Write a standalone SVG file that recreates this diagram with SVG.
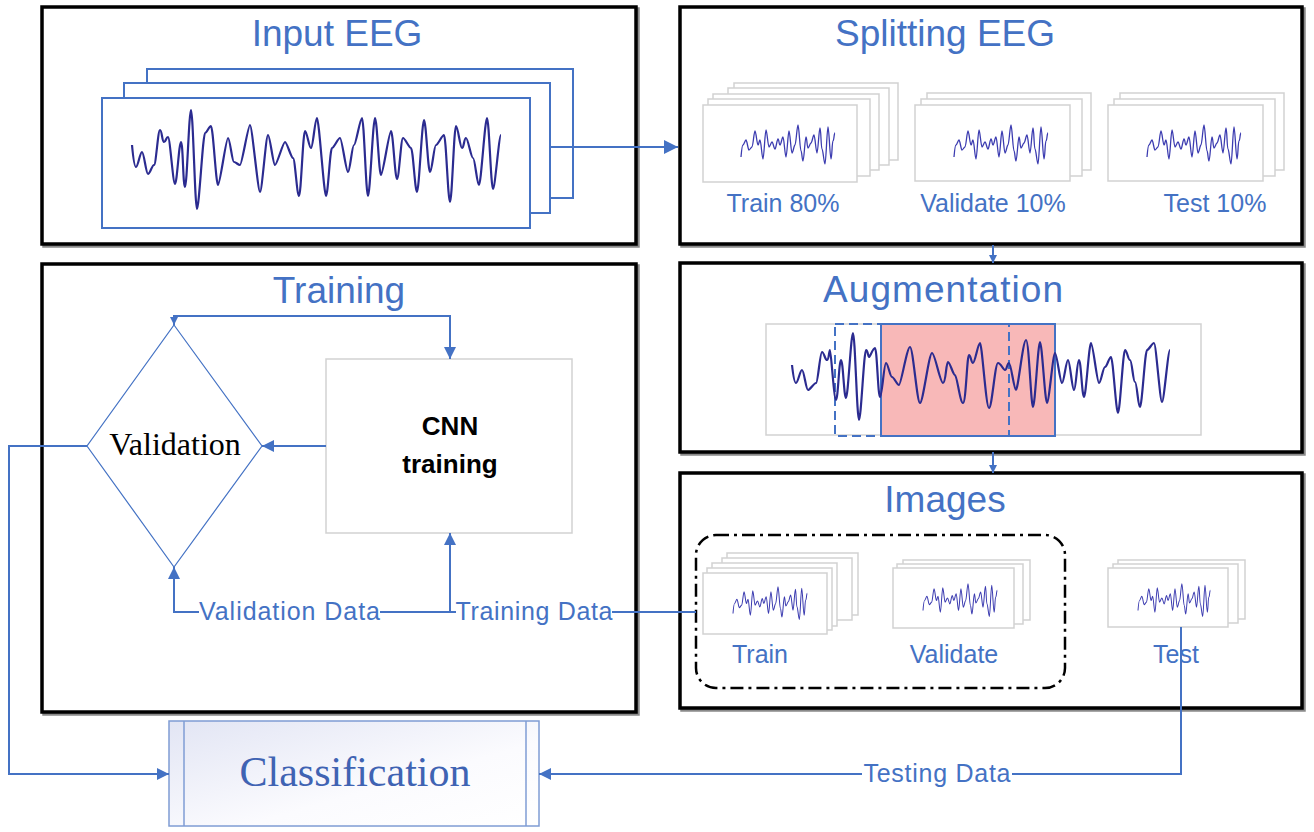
<svg xmlns="http://www.w3.org/2000/svg" xmlns:xlink="http://www.w3.org/1999/xlink" width="1314" height="832" viewBox="0 0 1314 832">
<style>
.panel{fill:#fff;stroke:#000;stroke-width:3.5}
.shadow{fill:none;stroke:#8a8a8a;stroke-width:3.5}
.title{font-family:"Liberation Sans",Arial,sans-serif;font-size:37px;fill:#4472C4;text-anchor:middle}
.lbl{font-family:"Liberation Sans",Arial,sans-serif;font-size:25px;fill:#4472C4;text-anchor:middle}
.frame{fill:#fff;stroke:#d2d2d2;stroke-width:1.5}
.bframe{fill:#fff;stroke:#4472C4;stroke-width:2}
.wave{fill:none;stroke:#2b2b90;stroke-width:2.2;stroke-linejoin:round}
.mwave{fill:none;stroke:#3b3bb0;stroke-width:1.3;stroke-linejoin:round}
.conn{fill:none;stroke:#4472C4;stroke-width:2}
</style>
<defs>
<marker id="arr" viewBox="0 0 12 12" refX="12" refY="6" markerUnits="userSpaceOnUse" markerWidth="12" markerHeight="12" orient="auto"><path d="M0,0 L12,6 L0,12 z" fill="#4472C4"/></marker>
<marker id="arrB" viewBox="0 0 14 14" refX="14" refY="7" markerUnits="userSpaceOnUse" markerWidth="14" markerHeight="14" orient="auto"><path d="M0,0 L14,7 L0,14 z" fill="#4472C4"/></marker>
<marker id="arrS" viewBox="0 0 8 8" refX="8" refY="4" markerUnits="userSpaceOnUse" markerWidth="8" markerHeight="8" orient="auto-start-reverse"><path d="M0,0 L8,4 L0,8 z" fill="#4472C4"/></marker>
<path id="mw" d="M0,34 S1,22 2,22 S4,17 5,17 S7,27 8,27 S10,24 11,24 S13,8 14,8 S16,22 17,22 S18,17 19,17 S21,36 22,36 S24,7 25,7 S27,24 28,24 S30,19 31,19 S33,26 34,26 S36,16 37,16 S38,22 39,22 S41,14 42,14 S44,34 45,34 S47,8 48,8 S50,30 51,30 S53,22 54,22 S56,2 57,2 S59,28 60,28 S61,38 62,38 S64,14 65,14 S66,25 67,25 S69,20 70,20 S72,12 73,12 S75,30 76,30 S78,5 79,5 S80,26 81,26 S83,41 84,41 S86,4 87,4 S89,36 90,36 S91,18 92,18 S93,10 94,10"/>
<linearGradient id="cg" x1="0" y1="0" x2="1" y2="1"><stop offset="0" stop-color="#e2e5f4"/><stop offset="0.6" stop-color="#fbfbfe"/><stop offset="1" stop-color="#ffffff"/></linearGradient>
</defs>

<g id="input-eeg">
<rect class="shadow" x="44" y="9" width="594" height="237"/>
<rect class="panel" x="42" y="7" width="594" height="237"/>
<text class="title" x="337" y="46">Input EEG</text>
<rect class="bframe" x="147" y="69" width="426" height="129"/>
<rect class="bframe" x="124" y="83" width="426" height="130"/>
<rect class="bframe" x="102" y="98" width="428" height="130"/>
<path class="wave" d="M132,145 S134,167 136,167 S140,152 142,152 S146,174 148,174 S152,165 154,165 S158,130 160,130 S162,142 164,142 S166,137 168,137 S173,184 175,184 S179,142 181,142 S183,187 185,187 S189,110 191,110 S195,209 197,209 S203,133 205,133 S209,126 211,126 S216,185 218,185 S226,138 228,138 S232,162 234,162 S238,165 240,165 S248,125 250,125 S258,192 260,192 S266,135 268,135 S273,165 275,165 S283,142 285,142 S291,158 293,158 S297,196 299,196 S303,131 305,131 S309,148 311,148 S315,118 317,118 S324,196 326,196 S330,148 332,148 S338,138 340,138 S346,172 348,172 S352,145 354,145 S360,118 362,118 S366,196 368,196 S373,118 375,118 S379,175 381,175 S389,131 391,131 S395,179 397,179 S401,138 403,138 S409,148 411,148 S415,192 417,192 S422,120 424,120 S428,172 430,172 S434,145 436,145 S442,135 444,135 S448,202 450,202 S454,126 456,126 S460,148 462,148 S464,138 466,138 S471,158 473,158 S477,185 479,185 S485,118 487,118 S491,189 493,189 S499,135 501,135"/>
</g>

<g id="splitting-eeg">
<rect class="shadow" x="682" y="9" width="622" height="237"/>
<rect class="panel" x="680" y="7" width="622" height="237"/>
<text class="title" x="945" y="46">Splitting EEG</text>
<rect class="frame" x="734" y="83" width="164" height="77"/>
<rect class="frame" x="728" y="88" width="161" height="77"/>
<rect class="frame" x="713" y="94" width="166" height="76"/>
<rect class="frame" x="708" y="99" width="162" height="77"/>
<rect class="frame" x="703" y="105" width="154" height="77"/>
<use href="#mw" class="mwave" transform="translate(741,123)"/>
<rect class="frame" x="927" y="93" width="164" height="77"/>
<rect class="frame" x="921" y="99" width="161" height="77"/>
<rect class="frame" x="915" y="105" width="155" height="76"/>
<use href="#mw" class="mwave" transform="translate(954,123)"/>
<rect class="frame" x="1120" y="93" width="164" height="77"/>
<rect class="frame" x="1114" y="99" width="161" height="77"/>
<rect class="frame" x="1108" y="105" width="155" height="76"/>
<use href="#mw" class="mwave" transform="translate(1147,123)"/>
<text class="lbl" x="783" y="212">Train 80%</text>
<text class="lbl" x="993" y="212">Validate 10%</text>
<text class="lbl" x="1215" y="212">Test 10%</text>
</g>

<g id="augmentation">
<rect class="shadow" x="682" y="265" width="622" height="189"/>
<rect class="panel" x="680" y="263" width="622" height="189"/>
<text class="title" x="943" y="302" textLength="240">Augmentation</text>
<rect x="766" y="324" width="435" height="111" fill="#fff" stroke="#d2d2d2" stroke-width="1.5"/>
<rect x="881" y="324" width="174" height="112" fill="#f8b8b8" stroke="#4472C4" stroke-width="2"/>
<rect x="835" y="324" width="174" height="112" fill="none" stroke="#4472C4" stroke-width="2" stroke-dasharray="9 5"/>
<path class="wave" d="M792,365 S794,383 796,383 S800,370 802,370 S806,390 808,390 S814,383 816,383 S820,352 822,352 S825,360 827,360 S829,350 830,350 S834,400 836,400 S839,360 841,360 S844,398 846,398 S851,333 853,333 S857,420 859,420 S864,350 866,350 S868,357 869,357 S873,348 875,348 S878,397 880,397 S884,363 886,363 S890,377 892,377 S897,385 899,385 S907,347 910,347 S917,403 920,403 S929,353 932,353 S940,383 943,383 S946,362 948,362 S953,375 955,375 S960,403 963,403 S967,355 969,355 S971,363 973,363 S978,343 980,343 S986,408 989,408 S995,363 998,363 S1003,370 1005,370 S1007,363 1009,363 S1014,390 1016,390 S1023,340 1026,340 S1031,407 1033,407 S1038,342 1040,342 S1045,403 1047,403 S1053,353 1055,353 S1060,383 1062,383 S1066,360 1068,360 S1072,390 1074,390 S1077,360 1079,360 S1082,397 1084,397 S1089,343 1091,343 S1097,383 1099,383 S1103,367 1105,367 S1109,357 1111,357 S1116,413 1118,413 S1123,350 1125,350 S1128,360 1130,360 S1133,382 1135,382 S1138,407 1140,407 S1145,350 1147,350 S1152,343 1154,343 S1160,402 1162,402 S1168,350 1170,350"/>
</g>

<g id="images">
<rect class="shadow" x="682" y="475" width="622" height="235"/>
<rect class="panel" x="680" y="473" width="622" height="235"/>
<text class="title" x="945" y="512">Images</text>
<rect x="696" y="535" width="369" height="153" rx="20" fill="none" stroke="#000" stroke-width="2.5" stroke-dasharray="13 5 3 5"/>
<rect class="frame" x="727" y="553" width="131" height="62"/>
<rect class="frame" x="722" y="558" width="130" height="62"/>
<rect class="frame" x="712" y="563" width="125" height="63"/>
<rect class="frame" x="707" y="568" width="125" height="62"/>
<rect class="frame" x="703" y="573" width="124" height="61"/>
<use href="#mw" class="mwave" transform="translate(733,585) scale(0.79,0.84)"/>
<rect class="frame" x="903" y="560" width="127" height="60"/>
<rect class="frame" x="897" y="564" width="126" height="60"/>
<rect class="frame" x="893" y="568" width="121" height="60"/>
<use href="#mw" class="mwave" transform="translate(923,582) scale(0.79,0.84)"/>
<rect class="frame" x="1118" y="560" width="127" height="59"/>
<rect class="frame" x="1113" y="564" width="125" height="59"/>
<rect class="frame" x="1108" y="568" width="120" height="59"/>
<use href="#mw" class="mwave" transform="translate(1138,582) scale(0.77,0.84)"/>
<text class="lbl" x="760" y="663">Train</text>
<text class="lbl" x="954" y="663">Validate</text>
<text class="lbl" x="1176" y="663">Test</text>
</g>

<g id="training">
<rect class="shadow" x="44" y="266" width="594" height="448"/>
<rect class="panel" x="42" y="264" width="594" height="448"/>
<text class="title" x="339" y="303">Training</text>
</g>

<g id="validation">
<polygon points="174,325 262,446 174,567 87,446" fill="#fff" stroke="#4472C4" stroke-width="1.2"/>
<text x="175" y="455" font-family="Liberation Serif,Times New Roman,serif" font-size="32" fill="#000" text-anchor="middle">Validation</text>
</g>

<g id="cnn-training">
<rect x="326" y="359" width="246" height="174" fill="#fff" stroke="#d2d2d2" stroke-width="1.5"/>
<text x="450" y="435" font-family="Liberation Sans,Arial,sans-serif" font-size="26" font-weight="bold" fill="#000" text-anchor="middle">CNN</text>
<text x="450" y="473" font-family="Liberation Sans,Arial,sans-serif" font-size="26" font-weight="bold" fill="#000" text-anchor="middle">training</text>
</g>

<g id="classification">
<rect x="169" y="721" width="370" height="105" fill="url(#cg)" stroke="#7f9cd4" stroke-width="1.5"/>
<line x1="184" y1="721" x2="184" y2="826" stroke="#7f9cd4" stroke-width="1.5"/>
<line x1="526" y1="721" x2="526" y2="826" stroke="#7f9cd4" stroke-width="1.5"/>
<text x="355" y="786" font-family="Liberation Serif,Times New Roman,serif" font-size="43" fill="#3f63b3" text-anchor="middle" textLength="231" lengthAdjust="spacingAndGlyphs">Classification</text>
</g>

<g id="connectors">
<path class="conn" d="M550,147 H678" stroke-width="3" marker-end="url(#arrB)"/>
<path class="conn" d="M993,245 V263" stroke-width="1.5" marker-end="url(#arrS)"/>
<path class="conn" d="M993,452 V473" stroke-width="1.5" marker-end="url(#arrS)"/>
<path class="conn" d="M174,325 V316 H450 V359" marker-start="url(#arrS)" marker-end="url(#arr)"/>
<path class="conn" d="M326,446 H262" marker-end="url(#arr)"/>
<path class="conn" d="M199,612 H174 V567" marker-end="url(#arr)"/>
<path class="conn" d="M380,612 H456"/>
<path class="conn" d="M450,612 V533" marker-end="url(#arr)"/>
<path class="conn" d="M612,612 H696"/>
<path class="conn" d="M87,446 H9 V774 H169" marker-end="url(#arr)"/>
<path class="conn" d="M1181,627 V774 H1012"/>
<path class="conn" d="M862,774 H539" marker-end="url(#arr)"/>
<text class="lbl" x="289.5" y="620" textLength="181">Validation Data</text>
<text class="lbl" x="534" y="620" textLength="157">Training Data</text>
<text class="lbl" x="937" y="782" textLength="147">Testing Data</text>
</g>
</svg>
